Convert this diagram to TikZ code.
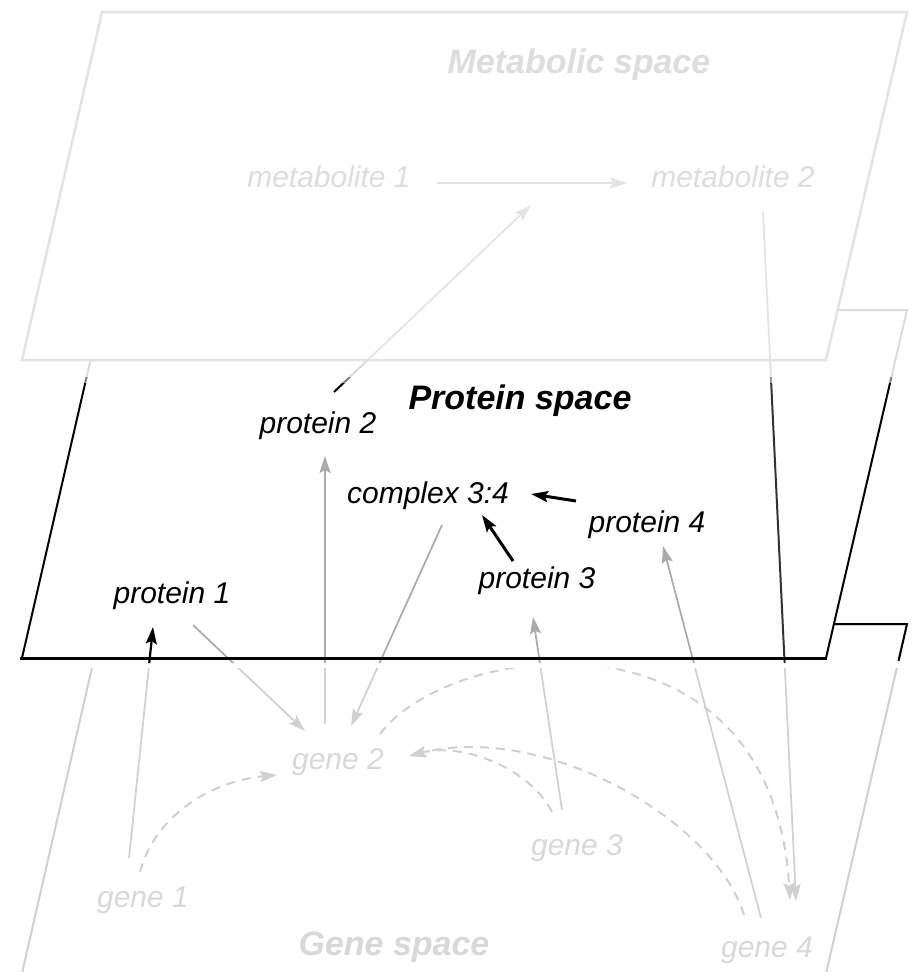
\documentclass[tikz,border=0pt]{standalone}
\usepackage{fontspec}
\setmainfont{Liberation Sans}
\usetikzlibrary{arrows.meta}

\definecolor{metaline}{HTML}{E3E3E3}
\definecolor{metatext}{HTML}{DDDDDD}
\definecolor{geneline}{HTML}{D0D0D0}
\definecolor{genetext}{HTML}{D8D8D8}
\definecolor{protgray}{HTML}{AAAAAA}
\definecolor{protdark}{HTML}{333333}

\begin{document}
\begin{tikzpicture}[x=1pt,y=-1pt,
  lab/.style={inner sep=0pt, anchor=base, font=\fontsize{30}{36}\selectfont\itshape},
  title/.style={inner sep=0pt, anchor=base, font=\fontsize{34}{40}\selectfont\bfseries\itshape},
  tip/.style={-{Stealth[length=17pt,width=11pt,inset=3pt]}},
  thin link/.style={line width=1.7pt},
  dashlink/.style={line width=2pt, dash pattern=on 9pt off 7pt, geneline, tip},
  plane edge/.style={line width=2pt, line join=miter}
]
\useasboundingbox (0,0) rectangle (918,972);

% ---------- anchor points of the connectors ----------
\coordinate (m1e)  at (437,183);
\coordinate (m2w)  at (627,183);
\coordinate (rx)   at (531,205);
\coordinate (p2ne) at (334,392);
\coordinate (m2s)  at (763,212);
\coordinate (g4n)  at (796,901);
\coordinate (g4nw) at (761,918);
\coordinate (p4s)  at (663,546);
\coordinate (g3n)  at (562,810);
\coordinate (p3s)  at (533,617);
\coordinate (g2n)  at (325,724);
\coordinate (p2s)  at (325,456);
\coordinate (cxs)  at (442,525);
\coordinate (g2ne) at (351,726);
\coordinate (p1se) at (193,625);
\coordinate (g2nw) at (305,731);
\coordinate (g1n)  at (129,858);
\coordinate (p1s)  at (153,627);
\coordinate (p4w)  at (576,501);
\coordinate (cxe)  at (531,494);
\coordinate (p3n)  at (513,561);
\coordinate (cxse) at (482,515);
\coordinate (g1a)  at (140,872);
\coordinate (g2w)  at (277,775);
\coordinate (g3a)  at (552,812);
\coordinate (g2e)  at (409,756);
\coordinate (g4a)  at (744,915);
\coordinate (g2a)  at (380,734);
\coordinate (g4b)  at (790,900);

% ---------- gene space (back layer) ----------
\fill[white] (102,624) -- (907,624) -- (824,982) -- (20,982) -- cycle;
\draw[geneline, plane edge] (102,624) -- (907,624) -- (824,982) -- (20,982) -- cycle;

\node[lab, genetext] (g1) at (143,907) {gene 1};
\node[lab, genetext] (g2) at (338,769) {gene 2};
\node[lab, genetext] (g3) at (577,855) {gene 3};
\node[lab, genetext] (g4) at (767,957) {gene 4};
\node[title, genetext] (gs) at (394,955) {Gene space};

% regulatory links between genes
\draw[dashlink] (g1a) .. controls (155,815) and (212,781) .. (g2w);
\draw[dashlink] (g3a) .. controls (530,768) and (462,742) .. (g2e);
\draw[dashlink] (g4a) .. controls (715,820) and (545,722) .. (g2e);
\draw[dashlink] (g2a) .. controls (450,640) and (772,598) .. (g4b);

% links passing between the layers, faint where they run in gene space
\draw[geneline, thin link, tip] (g1n) -- (p1s);
\draw[geneline, thin link, tip] (p1se) -- (g2nw);
\draw[geneline, thin link, tip] (g2n) -- (p2s);
\draw[geneline, thin link, tip] (cxs) -- (g2ne);
\draw[geneline, thin link, tip] (g3n) -- (p3s);
\draw[geneline, thin link, tip] (g4nw) -- (p4s);
\draw[geneline, thin link, tip] (m2s) -- (g4n);

% gap under the protein plane
\fill[white] (0,658) rectangle (918,668);

% ---------- protein space (middle layer) ----------
\fill[white] (102,310) -- (907,310) -- (826,658) -- (22,658) -- cycle;
\begin{scope}
  \clip (102,310) -- (907,310) -- (825,663) -- (20,663) -- cycle;
  \draw[black, line width=2.2pt, tip] (g1n) -- (p1s);
  \draw[protgray, thin link, tip] (p1se) -- (g2nw);
  \draw[protgray, thin link, tip] (g2n) -- (p2s);
  \draw[protgray, thin link, tip] (cxs) -- (g2ne);
  \draw[protgray, thin link, tip] (g3n) -- (p3s);
  \draw[protgray, thin link, tip] (g4nw) -- (p4s);
  \draw[protdark, line width=2pt, tip] (m2s) -- (g4n);
  \draw[black, line width=2pt, tip] (p2ne) -- (rx);
\end{scope}

\draw[black, plane edge] (22,658) -- (102,310) -- (907,310) -- (826,658);
\draw[black, line width=3pt] (20,658) -- (827,658);
\draw[black, plane edge] (835,624) -- (907,624) -- (898.5,661);

\node[title, black] (ps) at (520,409) {Protein space};
\node[lab, black] (p1) at (172,603) {protein 1};
\node[lab, black] (p2) at (318,433) {protein 2};
\node[lab, black] (p3) at (537,588) {protein 3};
\node[lab, black] (p4) at (647,532) {protein 4};
\node[lab, black] (cx) at (428,503) {complex 3:4};

\draw[black, line width=3pt, tip] (p4w) -- (cxe);
\draw[black, line width=3pt, tip] (p3n) -- (cxse);

% haze where the protein plane passes under the metabolic plane
\fill[white, opacity=0.86] (0,295) rectangle (918,377);
\fill[white, opacity=0.5] (0,377) rectangle (918,383);

% ---------- metabolic space (front layer) ----------
\fill[white] (102,12) -- (907,12) -- (826,360) -- (22,360) -- cycle;
\begin{scope}
  \clip (102,12) -- (907,12) -- (826,360) -- (22,360) -- cycle;
  \draw[metaline, thin link, tip] (p2ne) -- (rx);
  \draw[metaline, thin link] (m2s) -- (g4n);
\end{scope}
\draw[metaline, line width=2.5pt, line join=miter] (102,12) -- (907,12) -- (826,360) -- (22,360) -- cycle;

\node[title, metatext] (ms) at (579,73) {Metabolic space};
\node[lab, metatext] (m1) at (329,187) {metabolite 1};
\node[lab, metatext] (m2) at (733,187) {metabolite 2};
\draw[metaline, line width=2pt, tip] (m1e) -- (m2w);

\end{tikzpicture}
\end{document}
